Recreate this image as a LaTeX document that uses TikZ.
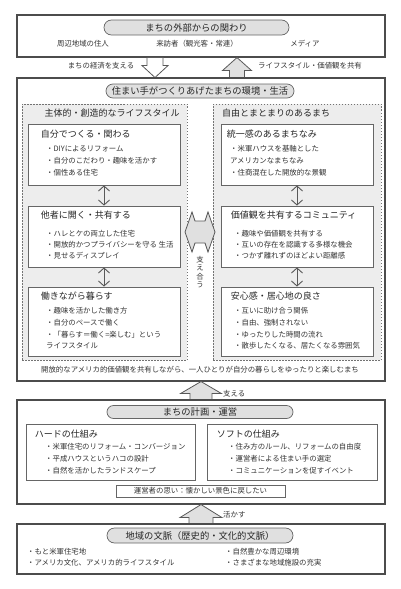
\documentclass[tikz,border=0pt]{standalone}
\usepackage{fontspec}
\setmainfont{Noto Sans CJK JP}
\usetikzlibrary{positioning, calc, arrows.meta, shapes.misc}

\begin{document}
\begin{tikzpicture}[
    x=1pt, y=-1pt,
    outerbox/.style={draw=black!70, line width=1.1pt, fill=white, minimum width=368pt, inner sep=0pt},
    pill/.style={rounded rectangle, draw=black!60, line width=0.7pt, fill=black!12, minimum width=186pt, minimum height=14pt, inner sep=0pt, font=\fontsize{9.3}{10}\selectfont, text=black!85},
    group/.style={draw=black!55, dash pattern=on 1.5pt off 1.5pt, line width=0.7pt, fill=black!7, minimum height=256pt, inner sep=0pt},
    card/.style={draw=black!60, line width=0.8pt, fill=white, minimum width=152pt, inner sep=0pt},
    note/.style={inner sep=0pt, font=\fontsize{7.4}{8.3}\selectfont, text=black!80},
    item/.style={note, anchor=west},
    head/.style={anchor=west, inner sep=0pt, font=\fontsize{9}{10}\selectfont, text=black!85},
    link/.style={{Straight Barb[length=5pt,width=11pt]}-{Straight Barb[length=5pt,width=11pt]}, draw=black!65, line width=0.9pt},
    blockarrow/.style={draw=black!65, line width=0.8pt, line join=miter}
  ]
  \useasboundingbox (0,0) rectangle (400,589);

  % outside relations
  \node[outerbox, minimum height=42pt] (outside) at (201,36) {};
  \node[pill, minimum width=185pt, minimum height=15pt] (outsidetitle) at (196.5,27.5) {まちの外部からの関わり};
  \node[note] (residents) at (83,44) {周辺地域の住人};
  \node[note] (visitors) at (197,44) {来訪者（観光客・常連）};
  \node[note] (media) at (305,44) {メディア};

  \coordinate (econ) at ($(outside.south)+(-46,0)$);
  \coordinate (share) at ($(outside.south)+(36,0)$);
  \draw[blockarrow, fill=white] (econ) ++(-8,0) -- ++(16,0) -- ++(0,8) -- ++(5,0) -- ++(-13,12) -- ++(-13,-12) -- ++(5,0) -- cycle;
  \draw[blockarrow, fill=black!12] (share) -- ++(14.5,13) -- ++(-7,0) -- ++(0,7) -- ++(-15,0) -- ++(0,-7) -- ++(-7,0) -- cycle;
  \node[note] (econlabel) at (101,66) {まちの経済を支える};
  \node[item] (sharelabel) at (258,66) {ライフスタイル・価値観を共有};

  % living environment
  \node[outerbox, minimum height=303pt] (living) at (201,229.5) {};
  \node[pill, minimum width=188pt] (livingtitle) at (200,91) {住まい手がつくりあげたまちの環境・生活};
  \node[group, minimum width=165pt] (lifestyle) at (104.5,232) {};
  \node[group, minimum width=168pt] (townscape) at (297,232) {};
  \node[head, anchor=center] (lifestyletitle) at (112,113) {主体的・創造的なライフスタイル};
  \node[head] (townscapetitle) at (222,113) {自由とまとまりのあるまち};

  \node[card, minimum height=61pt] (diy) at (104,154.5) {};
  \node[card, minimum height=61pt] (open) at (104,236.5) {};
  \node[card, minimum height=69pt] (work) at (104,321.5) {};
  \node[card, minimum height=61pt] (unity) at (297,154.5) {};
  \node[card, minimum height=61pt] (community) at (297,236.5) {};
  \node[card, minimum height=69pt] (comfort) at (297,321.5) {};

  \node[head] (diyhead) at ($(diy.north west)+(13,10)$) {自分でつくる・関わる};
  \node[head] (openhead) at ($(open.north west)+(13,9)$) {他者に開く・共有する};
  \node[head] (workhead) at ($(work.north west)+(13,9)$) {働きながら暮らす};
  \node[head] (unityhead) at ($(unity.north west)+(6,10.5)$) {統一感のあるまちなみ};
  \node[head] (communityhead) at ($(community.north west)+(10,9)$) {価値観を共有するコミュニティ};
  \node[head] (comforthead) at ($(comfort.north west)+(10,9)$) {安心感・居心地の良さ};

  \foreach \txt [count=\i] in {・DIYによるリフォーム, ・自分のこだわり・趣味を活かす, ・個性ある住宅}
    \node[item] (diy-\i) at (46,137+12*\i) {\txt};
  \foreach \txt [count=\i] in {・ハレとケの両立した住宅, ・開放的かつプライバシーを守る 生活, ・見せるディスプレイ}
    \node[item] (open-\i) at (46,223+11*\i) {\txt};
  \foreach \txt [count=\i] in {・趣味を活かした働き方, ・自分のペースで働く, ・「暮らす＝働く=楽しむ」という, ライフスタイル}
    \node[item] (work-\i) at (46,299.3+11.7*\i) {\txt};
  \foreach \txt [count=\i] in {・米軍ハウスを基軸とした, アメリカンなまちなみ, ・住商混在した開放的な景観}
    \node[item] (unity-\i) at (230,137+12*\i) {\txt};
  \foreach \txt [count=\i] in {・趣味や価値観を共有する, ・互いの存在を認識する多様な機会, ・つかず離れずのほどよい距離感}
    \node[item] (community-\i) at (234,223+11*\i) {\txt};
  \foreach \txt [count=\i] in {・互いに助け合う関係, ・自由、強制されない, ・ゆったりした時間の流れ, ・散歩したくなる、居たくなる雰囲気}
    \node[item] (comfort-\i) at (234,299.3+11.7*\i) {\txt};

  \draw[link] (diy) -- (open);
  \draw[link] (open) -- (work);
  \draw[link] (unity) -- (community);
  \draw[link] (community) -- (comfort);

  \coordinate (mutual) at ($(lifestyle.east)!0.5!(townscape.west)$);
  \draw[blockarrow, fill=black!12] (mutual) ++(-15,0) -- ++(7,-20) -- ++(3,9) -- ++(10,0) -- ++(3,-9) -- ++(7,20) -- ++(-7,20) -- ++(-3,-9) -- ++(-10,0) -- ++(-3,9) -- cycle;
  \node[note, align=center] (mutuallabel) [below=24pt of mutual] {支\\え\\合\\う};

  \node[note] (motto) at (200,370) {開放的なアメリカ的価値観を共有しながら、一人ひとりが自分の暮らしをゆったりと楽しむまち};

  \draw[blockarrow, fill=black!12] (living.south) -- ++(20.5,12) -- ++(-9.5,0) -- ++(0,7) -- ++(-22,0) -- ++(0,-7) -- ++(-9.5,0) -- cycle;
  \node[item] (supportlabel) at (223,394) {支える};

  % planning and management
  \node[outerbox, minimum height=104pt] (plan) at (201,452) {};
  \node[pill, minimum height=13pt] (plantitle) at (200,412) {まちの計画・運営};
  \node[card, minimum width=169pt, minimum height=56pt] (hard) at (110.5,452) {};
  \node[card, minimum width=170pt, minimum height=56pt] (soft) at (292,452) {};
  \node[head] (hardhead) at ($(hard.north west)+(9,10)$) {ハードの仕組み};
  \node[head] (softhead) at ($(soft.north west)+(10,10)$) {ソフトの仕組み};
  \foreach \txt [count=\i] in {・米軍住宅のリフォーム・コンバージョン, ・平成ハウスというハコの設計, ・自然を活かしたランドスケープ}
    \node[item] (hard-\i) at (45,435+12*\i) {\txt};
  \foreach \txt [count=\i] in {・住み方のルール、リフォームの自由度, ・運営者による住まい手の選定, ・コミュニケーションを促すイベント}
    \node[item] (soft-\i) at (228,435+12*\i) {\txt};
  \node[card, note, minimum width=169pt, minimum height=12pt] (wish) at (200.5,491) {運営者の思い：懐かしい景色に戻したい};

  \draw[blockarrow, fill=black!12] (plan.south) -- ++(21,13) -- ++(-9,0) -- ++(0,7) -- ++(-24,0) -- ++(0,-7) -- ++(-9,0) -- cycle;
  \node[item] (uselabel) at (223,515) {活かす};

  % regional context
  \node[outerbox, minimum height=50pt] (context) at (201,549) {};
  \node[pill, minimum height=15pt] (contexttitle) at (200,535.5) {地域の文脈（歴史的・文化的文脈）};
  \node[item] (context-1) at (27,552) {・もと米軍住宅地};
  \node[item] (context-2) at (27,563) {・アメリカ文化、アメリカ的ライフスタイル};
  \node[item] (context-3) at (225,552) {・自然豊かな周辺環境};
  \node[item] (context-4) at (225,563) {・さまざまな地域施設の充実};
\end{tikzpicture}
\end{document}
